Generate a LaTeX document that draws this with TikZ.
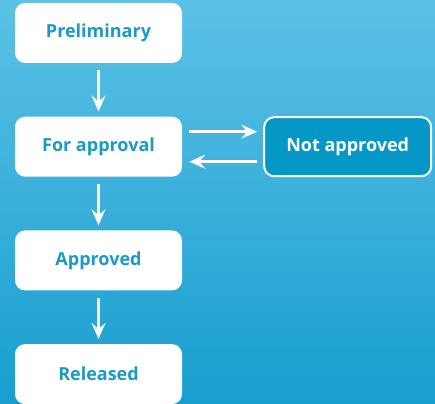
\documentclass[tikz,border=0pt]{standalone}
\usepackage{fontspec}
\setmainfont{Open Sans}
\usetikzlibrary{positioning,arrows.meta}

\definecolor{bgTop}{HTML}{5CC1E6}
\definecolor{bgBottom}{HTML}{189ECF}
\definecolor{statusText}{HTML}{1A9AC7}
\definecolor{rejectFill}{HTML}{0598C6}

\begin{document}
\begin{tikzpicture}[x=1pt, y=1pt, node distance=53.3pt,
    status/.style={fill=white, rounded corners=10pt, minimum width=167pt, minimum height=60pt,
        inner sep=0pt, text=statusText, font=\bfseries\fontsize{18}{21}\selectfont},
    flow/.style={draw=white, line width=2.4pt, -{Stealth[length=16pt, width=14pt, inset=6pt]}}]
    \shade[top color=bgTop, bottom color=bgBottom] (0,0) rectangle (435,-403);
    \useasboundingbox (0,0) rectangle (435,-403);

    \node[status] (preliminary) at (98.5,-33) {Preliminary};
    \node[status, below = of preliminary] (forApproval) {For approval};
    \node[status, below = of forApproval] (approved) {Approved};
    \node[status, below = of approved] (released) {Released};
    \node[status, fill=rejectFill, draw=white, line width=2pt, text=white,
        minimum width=167pt, minimum height=59pt, right = 81pt of forApproval] (notApproved) {Not approved};

    \draw[flow, shorten <=7pt, shorten >=5pt] (preliminary) -- (forApproval);
    \draw[flow, shorten <=7pt, shorten >=5pt] (forApproval) -- (approved);
    \draw[flow, shorten <=7pt, shorten >=5pt] (approved) -- (released);
    \draw[flow, shorten <=7pt, shorten >=6pt] ([yshift=15pt]forApproval.east) -- ([yshift=15pt]notApproved.west);
    \draw[flow, shorten <=6pt, shorten >=7pt] ([yshift=-15pt]notApproved.west) -- ([yshift=-15pt]forApproval.east);
\end{tikzpicture}
\end{document}
